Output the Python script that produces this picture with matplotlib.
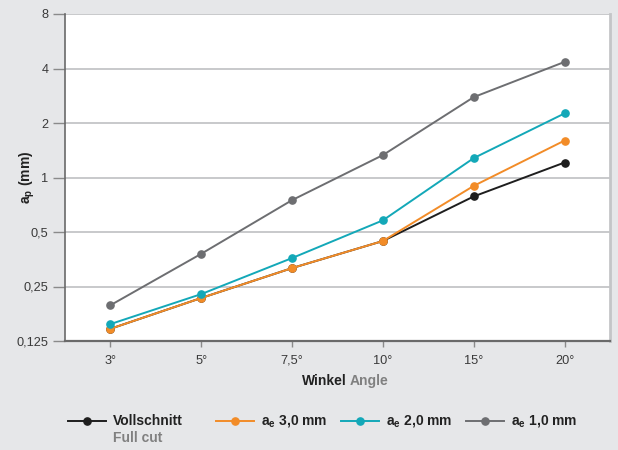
import matplotlib.pyplot as plt
from matplotlib.lines import Line2D
import numpy as np

plt.rcParams['font.family'] = ['Liberation Sans', 'DejaVu Sans']
plt.rcParams['mathtext.fontset'] = 'custom'
plt.rcParams['mathtext.rm'] = 'Liberation Sans'
plt.rcParams['mathtext.bf'] = 'Liberation Sans:bold'

winkel = ['3°', '5°', '7,5°', '10°', '15°', '20°']
voll = [0.146, 0.216, 0.316, 0.446, 0.786, 1.21]
ae30 = [0.146, 0.216, 0.316, 0.446, 0.899, 1.60]
ae20 = [0.155, 0.227, 0.359, 0.580, 1.28, 2.26]
ae10 = [0.197, 0.379, 0.75, 1.33, 2.78, 4.35]

serien = [voll, ae30, ae20, ae10]
farben = ['#1e1e1e', '#f28c28', '#13a8b8', '#6d6e71']
namen = ['Vollschnitt', r'$\mathbf{a_e}$ 3,0 mm', r'$\mathbf{a_e}$ 2,0 mm', r'$\mathbf{a_e}$ 1,0 mm']

bg = '#e6e7e9'
fig = plt.figure(figsize=(6.18, 4.5), dpi=100, facecolor=bg)
ax = fig.add_axes([65/618, 1-341/450, 545/618, 327/450])
ax.set_facecolor('white')

x = np.arange(len(winkel))
for i, (werte, farbe) in enumerate(zip(serien, farben)):
    ax.plot(x, werte, color=farbe, lw=1.4, marker='o', ms=5.2, zorder=3 + i)

ax.set_yscale('log', base=2)
ax.set_ylim(0.125, 8)
yt = [0.125, 0.25, 0.5, 1, 2, 4, 8]
ax.set_yticks(yt)
ax.set_yticklabels(['0,125', '0,25', '0,5', '1', '2', '4', '8'])
ax.minorticks_off()
ax.set_xlim(-0.5, 5.5)
ax.set_xticks(x)
ax.set_xticklabels(winkel)
ax.grid(axis='y', color='#c4c5c7', lw=1.3, zorder=0)

ax.tick_params(axis='y', length=9, color='#8a8a8a', width=1, labelsize=9.2, labelcolor='#3a3a3a', pad=3)
ax.tick_params(axis='x', length=4, color='#8a8a8a', width=1, labelsize=9.2, labelcolor='#3a3a3a', pad=6)
ax.spines['top'].set_visible(False)
ax.spines['left'].set_color('#6a6a6a')
ax.spines['bottom'].set_color('#6a6a6a')
ax.spines['left'].set_linewidth(1.2)
ax.spines['bottom'].set_linewidth(1.6)
ax.spines['right'].set_color('#c4c5c7')
ax.spines['right'].set_linewidth(2)

ax.set_ylabel(r'$\mathbf{a_p}$ (mm)', fontsize=10, fontweight='bold', color='#222222')
ax.yaxis.set_label_coords(-0.052, 0.5)
ax.text(0.517, -0.122, 'Winkel', transform=ax.transAxes, ha='right', va='center',
        fontsize=10, fontweight='bold', color='#222222')
ax.text(0.523, -0.122, 'Angle', transform=ax.transAxes, ha='left', va='center',
        fontsize=10, fontweight='bold', color='#808080')

# Legende unten
lx = [68, 216, 341, 466]
ly = 1 - 421/450
for xs, farbe, name in zip(lx, farben, namen):
    fig.add_artist(Line2D([xs/618, (xs+38)/618], [ly, ly], color=farbe, lw=1.4,
                          transform=fig.transFigure))
    fig.add_artist(Line2D([(xs+19)/618], [ly], color=farbe, marker='o', ms=5.2,
                          transform=fig.transFigure))
    fig.text((xs+45)/618, ly, name, ha='left', va='center', fontsize=10,
             fontweight='bold', color='#222222')
fig.text((68+45)/618, 1-438/450, 'Full cut', ha='left', va='center', fontsize=10,
         fontweight='bold', color='#808080')

fig.savefig('out.png', dpi=100, facecolor=bg)
